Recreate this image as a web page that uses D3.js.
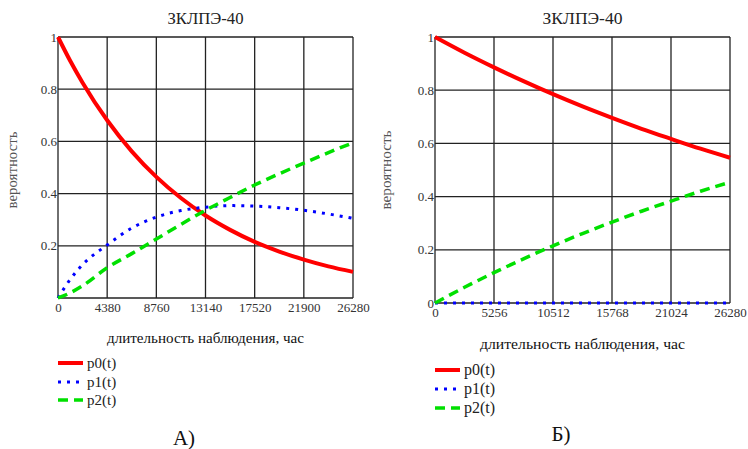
<!DOCTYPE html>
<html><head><meta charset="utf-8">
<script src="https://cdn.jsdelivr.net/npm/d3@7"></script>
<style>body{margin:0;background:#fff}svg{display:block}
svg text{font-family:"Liberation Serif","DejaVu Serif","Times New Roman",serif}</style>
</head><body>
<svg id="c" width="748" height="449"></svg>
<script>
// ---- data ----
const titleText = "ЗКЛПЭ-40";
const xAxisLabel = "длительность наблюдения, час";
const yAxisLabel = "вероятность";
const seriesNames = ["p0(t)", "p1(t)", "p2(t)"];
const panelLabels = ["А)", "Б)"];

const aTimes = [0, 1095, 2190, 4380, 6570, 8760, 10950, 13140, 15330, 17520, 19710, 21900, 24090, 26280];
const aP0 = [1.000, 0.908, 0.825, 0.681, 0.562, 0.464, 0.383, 0.316, 0.261, 0.215, 0.178, 0.147, 0.121, 0.100];
const aP1 = [0.000, 0.072, 0.128, 0.203, 0.268, 0.310, 0.335, 0.348, 0.354, 0.352, 0.346, 0.336, 0.322, 0.305];
const aP2 = [0.000, 0.020, 0.047, 0.116, 0.170, 0.226, 0.282, 0.336, 0.385, 0.433, 0.476, 0.517, 0.557, 0.595];
const aXTicks = [0, 4380, 8760, 13140, 17520, 21900, 26280];
const aYTicks = [0, 0.2, 0.4, 0.6, 0.8, 1];
const aYTickLabels = ["", "0.2", "0.4", "0.6", "0.8", "1"];

const bTimes = [0, 2628, 5256, 7884, 10512, 13140, 15768, 18396, 21024, 23652, 26280];
const bP0 = [1.000, 0.941, 0.886, 0.834, 0.785, 0.739, 0.696, 0.655, 0.617, 0.580, 0.546];
const bP1 = [0, 0, 0, 0, 0, 0, 0, 0, 0, 0, 0];
const bP2 = [0.000, 0.059, 0.114, 0.166, 0.215, 0.261, 0.304, 0.345, 0.383, 0.420, 0.454];
const bXTicks = [0, 5256, 10512, 15768, 21024, 26280];
const bYTicks = [0, 0.2, 0.4, 0.6, 0.8, 1];
const bYTickLabels = ["0", "0.2", "0.4", "0.6", "0.8", "1"];

// ---- styles ----
const styles = [
  {color: "#ff0000", width: 4, dash: null},
  {color: "#0000ff", width: 3, dash: "3,6"},
  {color: "#00e000", width: 3.5, dash: "10,6"}
];
const svg = d3.select("#c");

function panel(cfg) {
  const g = svg.append("g");
  const x = d3.scaleLinear().domain([0, 26280]).range([cfg.left, cfg.right]);
  const y = d3.scaleLinear().domain([0, 1]).range([cfg.bottom, cfg.top]);

  g.selectAll(".vg").data(cfg.xTicks).join("line")
    .attr("x1", d => x(d)).attr("x2", d => x(d))
    .attr("y1", cfg.top).attr("y2", cfg.bottom)
    .attr("stroke", "#222").attr("stroke-width", 1.3);
  g.selectAll(".hg").data(cfg.yTicks).join("line")
    .attr("x1", cfg.left).attr("x2", cfg.right)
    .attr("y1", d => y(d)).attr("y2", d => y(d))
    .attr("stroke", "#222").attr("stroke-width", 1.3);

  const xa = g.append("g").attr("transform", `translate(0,${cfg.bottom})`)
    .call(d3.axisBottom(x).tickValues(cfg.xTicks).tickSize(0).tickPadding(cfg.xPad).tickFormat(d => String(d)));
  xa.select(".domain").remove();
  xa.selectAll("text").attr("font-size", 13).attr("fill", "#333");

  const ya = g.append("g").attr("transform", `translate(${cfg.left},0)`)
    .call(d3.axisLeft(y).tickValues(cfg.yTicks).tickSize(0).tickPadding(1).tickFormat((d, i) => cfg.yLabels[i]));
  ya.select(".domain").remove();
  ya.selectAll("text").attr("font-size", 13).attr("fill", "#333");

  const sets = [cfg.p0, cfg.p1, cfg.p2];
  const clipId = "clip" + cfg.id;
  svg.append("clipPath").attr("id", clipId).append("rect")
    .attr("x", cfg.left - 3).attr("y", cfg.top - 3)
    .attr("width", cfg.right - cfg.left + 6).attr("height", cfg.bottom - cfg.top + 6);
  sets.forEach((vals, k) => {
    const line = d3.line().x((d, i) => x(cfg.times[i])).y(d => y(d)).curve(d3.curveMonotoneX);
    g.append("path").datum(vals).attr("d", line)
      .attr("fill", "none").attr("stroke", styles[k].color)
      .attr("stroke-width", styles[k].width)
      .attr("stroke-dasharray", styles[k].dash)
      .attr("clip-path", `url(#${clipId})`);
  });

  const cx = (cfg.left + cfg.right) / 2;
  g.append("text").attr("x", cx).attr("y", 24).attr("text-anchor", "middle")
    .attr("font-size", 16).attr("fill", "#222")
    .attr("textLength", cfg.titleLen).attr("lengthAdjust", "spacingAndGlyphs").text(titleText);
  g.append("text").attr("x", cx).attr("y", cfg.xLabelY).attr("text-anchor", "middle")
    .attr("font-size", 14).attr("fill", "#111")
    .attr("textLength", cfg.xLabelLen).attr("lengthAdjust", "spacingAndGlyphs").text(xAxisLabel);
  g.append("text").attr("transform", `translate(${cfg.yLabelX},${cfg.yLabelCY}) rotate(-90)`)
    .attr("text-anchor", "middle").attr("font-size", 14)
    .attr("fill", "#555").attr("textLength", cfg.yLabelLen).attr("lengthAdjust", "spacingAndGlyphs")
    .text(yAxisLabel);

  seriesNames.forEach((n, k) => {
    const ly = cfg.legendY[k];
    g.append("line").attr("x1", cfg.left).attr("x2", cfg.left + 25).attr("y1", ly).attr("y2", ly)
      .attr("stroke", styles[k].color).attr("stroke-width", styles[k].width)
      .attr("stroke-dasharray", styles[k].dash);
    g.append("text").attr("x", cfg.left + 29).attr("y", ly + 5)
      .attr("font-size", cfg.legendSize).attr("fill", "#222").text(n);
  });

  g.append("text").attr("x", cfg.panelX).attr("y", cfg.panelY).attr("text-anchor", "middle")
    .attr("font-size", 21).attr("fill", "#111").text(cfg.panelLabel);
}

panel({id: "a", left: 58, right: 353, top: 37, bottom: 298, times: aTimes, p0: aP0, p1: aP1, p2: aP2,
  xTicks: aXTicks, yTicks: aYTicks, yLabels: aYTickLabels, xPad: 5, xLabelY: 343, yLabelX: 17, yLabelCY: 170,
  titleLen: 76, xLabelLen: 197, yLabelLen: 77, legendSize: 15,
  legendY: [363, 382, 400], panelLabel: panelLabels[0], panelX: 184, panelY: 445});
panel({id: "b", left: 435, right: 730, top: 37, bottom: 303, times: bTimes, p0: bP0, p1: bP1, p2: bP2,
  xTicks: bXTicks, yTicks: bYTicks, yLabels: bYTickLabels, xPad: 5, xLabelY: 349, yLabelX: 391, yLabelCY: 170,
  titleLen: 80, xLabelLen: 205, yLabelLen: 79, legendSize: 16,
  legendY: [370, 389, 408], panelLabel: panelLabels[1], panelX: 561, panelY: 441});
</script>
</body></html>
